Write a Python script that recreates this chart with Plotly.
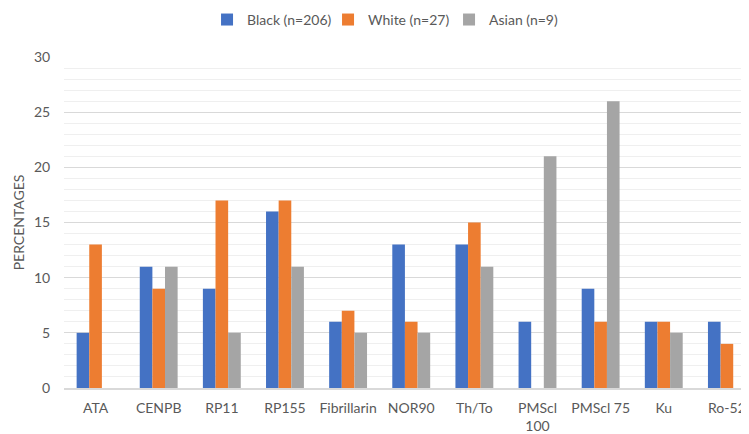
import plotly.graph_objects as go

categories = ["ATA", "CENPB", "RP11", "RP155", "Fibrillarin", "NOR90", "Th/To",
              "PMScl<br>100", "PMScl 75", "Ku", "Ro-52"]
black = [5, 11, 9, 16, 6, 13, 13, 6, 9, 6, 6]
white = [13, 9, 17, 17, 7, 6, 15, 0, 6, 6, 4]
asian = [0, 11, 5, 11, 5, 5, 11, 21, 26, 5, 0]
series_names = ["Black (n=206)", "White (n=27)", "Asian (n=9)"]
colors = ["#4472C4", "#ED7D31", "#A5A5A5"]
y_ticks = [0, 5, 10, 15, 20, 25, 30]

font = "Lato, Open Sans, sans-serif"
fig = go.Figure()
for name, vals, c in zip(series_names, [black, white, asian], colors):
    fig.add_trace(go.Bar(name=name, x=list(range(len(categories))), y=vals,
                         marker=dict(color=c, line=dict(width=0))))

fig.update_layout(
    width=741, height=426,
    margin=dict(l=56, r=0, t=49, b=46, autoexpand=False),
    paper_bgcolor="white", plot_bgcolor="white",
    barmode="group", bargap=0.4, bargroupgap=0,
    font=dict(family=font, size=14, color="#595959"),
    legend=dict(orientation="h", xref="container", yref="container",
                x=0.2686, xanchor="left", y=0.972, yanchor="middle",
                font=dict(size=14, color="#595959"), itemwidth=30,
                entrywidth=76, traceorder="normal"),
    xaxis=dict(tickmode="array", tickvals=list(range(len(categories))),
               ticktext=categories, range=[-0.5, 10.35], automargin=False,
               showgrid=False, showline=True, linecolor="#D9D9D9", linewidth=1.5,
               ticks="outside", ticklen=6, tickcolor="rgba(0,0,0,0)",
               tickfont=dict(size=14, color="#595959"), zeroline=False),
    yaxis=dict(range=[0, 30], tickvals=y_ticks, showgrid=True, automargin=False,
               gridcolor="#D9D9D9", gridwidth=1,
               minor=dict(dtick=1, showgrid=True, gridcolor="#EFEFEF", gridwidth=1),
               zeroline=False, ticks="outside", ticklen=10,
               tickcolor="rgba(0,0,0,0)", tickfont=dict(size=14, color="#595959"),
               title=dict(text="PERCENTAGES", standoff=6,
                          font=dict(size=14, color="#595959"))),
)

fig.write_html("out.html")
